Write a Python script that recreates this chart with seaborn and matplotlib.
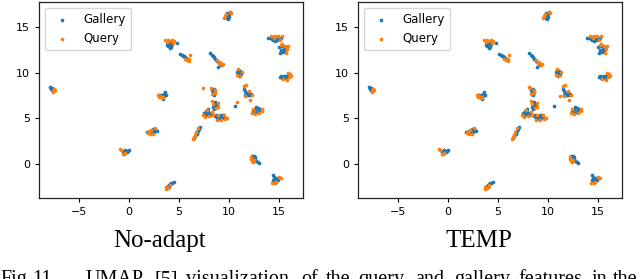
import matplotlib
matplotlib.use("Agg")
import matplotlib.pyplot as plt
import seaborn as sns
import pandas as pd

# ---- data (UMAP embedding coordinates) ----
gallery_pts = [
    (-7.9, 8.4), (-7.8, 8.3), (-7.7, 8.35), (-7.75, 8.2), (-7.6, 8.1), (-7.85, 8.25), (-7.65, 8.25), (-7.7, 8.1),
    (-0.5, 1.4), (-0.3, 1.35), (-0.1, 1.4), (-0.6, 1.3), (-0.4, 1.5), (-0.2, 1.25), (0.0, 1.45),
    (1.8, 3.45), (2.0, 3.5), (2.2, 3.6), (2.4, 3.75), (2.6, 3.8), (2.5, 3.5), (2.8, 3.55), (2.3, 3.4),
    (3.1, 7.6), (3.3, 7.5), (3.5, 7.7), (3.6, 7.9), (3.2, 7.3), (3.4, 7.1), (3.5, 7.4), (3.0, 7.5), (3.7, 7.6),
    (3.8, -2.6), (3.9, -2.5), (4.0, -2.4), (4.1, -2.3), (4.2, -2.2), (4.3, -2.15), (4.45, -2.05), (4.0, -2.55),
    (3.9, 13.3), (4.0, 13.1), (4.1, 13.4), (4.2, 13.0), (3.9, 12.9), (4.3, 13.2), (4.8, 13.3), (4.1, 12.7), (3.8, 13.1), (4.2, 12.8),
    (5.1, 12.1), (5.3, 11.95), (5.5, 11.8), (5.6, 11.7), (5.8, 11.55), (5.4, 11.9), (5.7, 11.6),
    (6.6, 3.0), (6.7, 3.2), (6.8, 3.4), (6.9, 3.6), (7.0, 3.8), (7.1, 4.05), (6.75, 3.3), (6.5, 2.85),
    (8.3, 8.1), (8.4, 7.9), (8.5, 8.2), (8.35, 7.7), (8.5, 7.6), (8.6, 7.9),
    (7.5, 5.6), (7.7, 5.8), (7.8, 5.5), (7.9, 5.7), (8.0, 5.4), (8.2, 5.6), (7.7, 5.3), (8.1, 5.3), (7.9, 6.0), (8.3, 5.5),
    (8.5, 6.5), (8.6, 6.3), (8.7, 6.6), (8.4, 6.2), (8.8, 6.4), (8.6, 6.8), (8.5, 6.0),
    (8.6, 5.2), (8.8, 5.0), (9.0, 5.1), (9.2, 5.3), (9.4, 5.4), (9.5, 5.1), (9.1, 4.9), (8.7, 5.4), (9.3, 5.0),
    (8.1, 12.2), (8.3, 12.0), (8.5, 11.7), (8.6, 11.5), (8.8, 11.3), (9.0, 11.1), (9.2, 10.9), (8.9, 10.6), (8.4, 11.8),
    (9.8, 16.6), (10.0, 16.5), (10.1, 16.7), (9.9, 16.3), (9.7, 16.2), (9.8, 16.0), (10.0, 16.2), (9.9, 15.9),
    (10.9, 10.3), (11.0, 10.0), (11.1, 10.2), (11.2, 9.9), (11.0, 9.7), (10.8, 10.1),
    (11.5, 8.2), (11.6, 8.0), (11.7, 7.8), (11.8, 7.6), (12.0, 7.8), (12.2, 7.7), (11.9, 7.5), (11.6, 7.6), (12.1, 7.5),
    (10.6, 6.3),
    (12.4, 5.8), (12.6, 6.0), (12.7, 6.2), (12.9, 6.1), (13.0, 5.9), (12.8, 5.7), (12.5, 5.6), (13.1, 6.0),
    (12.3, 0.8), (12.5, 0.85), (12.4, 0.6), (12.6, 0.5), (12.7, 0.3), (12.9, 0.2), (13.0, 0.1), (12.6, 0.7),
    (13.9, 13.8), (14.1, 13.8), (14.3, 13.75), (14.5, 13.9), (14.7, 13.7), (14.8, 13.6), (14.6, 13.5), (15.0, 13.7), (14.4, 13.6), (15.2, 13.8),
    (15.3, 12.9), (15.5, 12.6), (15.2, 12.5), (15.6, 12.4), (15.0, 12.8), (15.4, 12.3), (15.1, 12.2), (15.7, 12.7),
    (15.1, 9.5), (15.3, 9.45), (15.5, 9.6), (15.7, 9.7), (15.9, 9.8), (15.6, 9.4), (15.2, 9.6), (15.8, 9.5),
    (14.4, -1.3), (14.5, -1.5), (14.6, -1.7), (14.7, -1.9), (14.5, -2.0), (14.8, -1.6), (14.4, -1.8), (14.9, -1.8),
]

query_shared_pts = [
    (-7.55, 8.1), (-7.6, 7.95), (-7.5, 8.2), (-7.65, 7.9), (-7.45, 8.05),
    (-0.8, 1.5), (-0.6, 1.1), (-0.5, 1.0), (-0.95, 1.65), (-0.4, 1.2),
    (1.9, 3.35), (2.1, 3.3), (2.4, 3.3), (2.6, 3.9), (2.2, 3.7), (2.0, 3.6),
    (2.9, 7.6), (3.1, 7.4), (3.3, 7.2), (2.95, 7.35), (3.4, 7.35),
    (3.65, -2.8), (3.75, -2.7), (4.1, -2.4), (3.85, -2.75), (3.7, -2.6),
    (3.6, 13.6), (3.9, 13.6), (4.3, 13.6), (4.5, 13.5), (3.8, 13.4), (4.4, 13.3), (4.0, 13.55),
    (6.1, 12.0), (5.8, 11.4), (5.95, 11.5), (5.6, 11.5), (6.0, 11.35),
    (6.4, 2.7), (6.5, 2.9), (6.7, 3.45), (6.9, 3.9), (6.55, 3.1),
    (8.2, 8.35), (8.6, 8.15), (8.25, 7.65), (8.55, 7.75),
    (7.4, 5.4), (7.6, 5.1), (8.0, 5.2), (8.4, 5.3), (8.3, 5.7), (7.8, 5.9),
    (8.3, 6.9), (8.4, 6.6), (8.9, 6.7), (8.7, 6.1), (8.9, 6.2),
    (8.8, 4.8), (9.2, 4.8), (9.6, 4.9), (9.8, 5.0), (9.5, 5.3), (8.9, 5.3),
    (8.75, 11.4), (9.1, 11.2), (9.3, 10.9), (9.4, 10.95), (8.95, 11.05),
    (9.5, 16.0), (9.7, 16.5), (10.2, 16.6), (9.6, 16.3), (10.1, 16.75),
    (10.85, 10.45), (11.3, 10.1), (11.1, 9.6), (10.8, 9.8),
    (11.7, 8.7), (11.5, 8.5), (12.0, 8.0), (12.3, 7.5), (12.1, 7.0), (11.6, 7.4),
    (12.3, 5.6), (12.6, 5.5), (13.0, 5.6), (13.3, 5.8), (13.3, 6.0), (12.4, 6.0),
    (12.2, 0.5), (12.3, 0.3), (12.4, 0.2), (12.5, 0.35), (12.2, 0.7),
    (14.2, 14.0), (14.6, 14.1), (14.9, 14.0), (15.3, 14.0), (15.1, 13.6), (14.5, 13.8),
    (15.3, 13.2), (15.6, 13.0), (15.8, 12.6), (15.7, 12.2), (15.2, 13.1), (15.9, 12.9),
    (15.4, 9.3), (15.8, 9.2), (16.0, 9.5), (16.2, 9.6), (16.1, 9.9), (15.9, 9.95),
    (14.3, -2.1), (14.6, -2.2), (15.0, -1.5), (15.2, -1.6), (14.7, -2.05),
]

query_noadapt_extra = [(7.4, 8.3), (10.8, 6.8)]
query_temp_extra = [(11.2, 7.4), (8.1, 8.4)]

panel_titles = ["No-adapt", "TEMP"]
series_labels = ["Gallery", "Query"]
series_colors = ["#1f77b4", "#ff7f0e"]
x_ticks = [-5, 0, 5, 10, 15]
y_ticks = [0, 5, 10, 15]
caption_words = ["Fig.", "11.", "UMAP", "[5]", "visualization", "of", "the",
                 "query", "and", "gallery", "features", "in", "the"]
caption_word_px = [0, 32, 86, 154, 186, 301, 326, 358, 415, 454, 518, 592, 613]


def to_df(pts):
    return pd.DataFrame(pts, columns=["x", "y"])


gallery_df = to_df(gallery_pts)
query_dfs = [to_df(query_shared_pts + query_noadapt_extra),
             to_df(query_shared_pts + query_temp_extra)]

W, H = 640, 279
fig = plt.figure(figsize=(W / 100, H / 100), dpi=100)
plt.rcParams["font.family"] = ["DejaVu Sans"]

ax_rects = [
    [39 / W, (H - 198) / H, 264 / W, 196 / H],
    [358 / W, (H - 198) / H, 264 / W, 196 / H],
]
title_cx = [160, 479]

for i in range(2):
    ax = fig.add_axes(ax_rects[i])
    sns.scatterplot(data=gallery_df, x="x", y="y", ax=ax, color=series_colors[0],
                    s=7, linewidth=0, label=series_labels[0], legend=False)
    sns.scatterplot(data=query_dfs[i], x="x", y="y", ax=ax, color=series_colors[1],
                    s=7, linewidth=0, label=series_labels[1], legend=False)
    ax.set_xlim(-9.0, 17.4)
    ax.set_ylim(-3.8, 17.8)
    ax.set_xticks(x_ticks)
    ax.set_yticks(y_ticks)
    ax.set_xlabel("")
    ax.set_ylabel("")
    ax.tick_params(labelsize=8, length=3, width=0.8)
    for sp in ax.spines.values():
        sp.set_linewidth(0.9)
        sp.set_color("#222222")
    ax.legend(loc="upper left", fontsize=8.5, markerscale=1.0,
              borderpad=0.45, handletextpad=0.8, labelspacing=0.5)
    fig.text(title_cx[i] / W, (H - 247) / H, panel_titles[i], ha="center",
             va="baseline", fontsize=18, family="Liberation Serif")

for word, px in zip(caption_words, caption_word_px):
    fig.text(px / W, (H - 284) / H, word, ha="left", va="baseline",
             fontsize=14.5, family="Liberation Serif")

fig.savefig("out.png", dpi=100)
